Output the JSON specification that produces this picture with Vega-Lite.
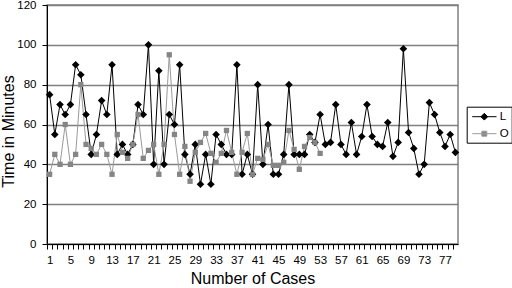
{
  "$schema": "https://vega.github.io/schema/vega-lite/v6.json",
  "width": 411,
  "height": 239,
  "autosize": {"type": "none"},
  "padding": {"left": 47, "top": 5, "right": 54, "bottom": 44},
  "background": "white",
  "config": {
    "font": "Liberation Sans",
    "view": {"stroke": "#808080", "strokeWidth": 1.5}
  },
  "data": {"values": [
    {"case":1,"series":"L","time":75},{"case":2,"series":"L","time":55},{"case":3,"series":"L","time":70},{"case":4,"series":"L","time":65},{"case":5,"series":"L","time":70},{"case":6,"series":"L","time":90},{"case":7,"series":"L","time":85},{"case":8,"series":"L","time":65},{"case":9,"series":"L","time":45},{"case":10,"series":"L","time":55},
    {"case":11,"series":"L","time":72},{"case":12,"series":"L","time":65},{"case":13,"series":"L","time":90},{"case":14,"series":"L","time":45},{"case":15,"series":"L","time":50},{"case":16,"series":"L","time":45},{"case":17,"series":"L","time":50},{"case":18,"series":"L","time":70},{"case":19,"series":"L","time":65},{"case":20,"series":"L","time":100},
    {"case":21,"series":"L","time":40},{"case":22,"series":"L","time":87},{"case":23,"series":"L","time":40},{"case":24,"series":"L","time":65},{"case":25,"series":"L","time":60},{"case":26,"series":"L","time":90},{"case":27,"series":"L","time":45},{"case":28,"series":"L","time":35},{"case":29,"series":"L","time":50},{"case":30,"series":"L","time":30},
    {"case":31,"series":"L","time":45},{"case":32,"series":"L","time":30},{"case":33,"series":"L","time":55},{"case":34,"series":"L","time":50},{"case":35,"series":"L","time":45},{"case":36,"series":"L","time":45},{"case":37,"series":"L","time":90},{"case":38,"series":"L","time":35},{"case":39,"series":"L","time":45},{"case":40,"series":"L","time":35},
    {"case":41,"series":"L","time":80},{"case":42,"series":"L","time":40},{"case":43,"series":"L","time":60},{"case":44,"series":"L","time":35},{"case":45,"series":"L","time":35},{"case":46,"series":"L","time":45},{"case":47,"series":"L","time":80},{"case":48,"series":"L","time":45},{"case":49,"series":"L","time":45},{"case":50,"series":"L","time":45},
    {"case":51,"series":"L","time":55},{"case":52,"series":"L","time":51},{"case":53,"series":"L","time":65},{"case":54,"series":"L","time":50},{"case":55,"series":"L","time":51},{"case":56,"series":"L","time":70},{"case":57,"series":"L","time":50},{"case":58,"series":"L","time":45},{"case":59,"series":"L","time":61},{"case":60,"series":"L","time":45},
    {"case":61,"series":"L","time":54},{"case":62,"series":"L","time":70},{"case":63,"series":"L","time":54},{"case":64,"series":"L","time":50},{"case":65,"series":"L","time":49},{"case":66,"series":"L","time":61},{"case":67,"series":"L","time":44},{"case":68,"series":"L","time":51},{"case":69,"series":"L","time":98},{"case":70,"series":"L","time":56},
    {"case":71,"series":"L","time":48},{"case":72,"series":"L","time":35},{"case":73,"series":"L","time":40},{"case":74,"series":"L","time":71},{"case":75,"series":"L","time":65},{"case":76,"series":"L","time":56},{"case":77,"series":"L","time":49},{"case":78,"series":"L","time":55},{"case":79,"series":"L","time":46},
    {"case":1,"series":"O","time":35},{"case":2,"series":"O","time":45},{"case":3,"series":"O","time":40},{"case":4,"series":"O","time":60},{"case":5,"series":"O","time":40},{"case":6,"series":"O","time":45},{"case":7,"series":"O","time":80},{"case":8,"series":"O","time":50},{"case":9,"series":"O","time":48},{"case":10,"series":"O","time":45},
    {"case":11,"series":"O","time":50},{"case":12,"series":"O","time":45},{"case":13,"series":"O","time":35},{"case":14,"series":"O","time":55},{"case":15,"series":"O","time":46},{"case":16,"series":"O","time":43},{"case":17,"series":"O","time":50},{"case":18,"series":"O","time":65},{"case":19,"series":"O","time":43},{"case":20,"series":"O","time":47},
    {"case":21,"series":"O","time":50},{"case":22,"series":"O","time":35},{"case":23,"series":"O","time":50},{"case":24,"series":"O","time":95},{"case":25,"series":"O","time":55},{"case":26,"series":"O","time":35},{"case":27,"series":"O","time":49},{"case":28,"series":"O","time":31.5},{"case":29,"series":"O","time":46},{"case":30,"series":"O","time":51},
    {"case":31,"series":"O","time":55.5},{"case":32,"series":"O","time":45.5},{"case":33,"series":"O","time":41},{"case":34,"series":"O","time":45.5},{"case":35,"series":"O","time":57},{"case":36,"series":"O","time":46},{"case":37,"series":"O","time":35},{"case":38,"series":"O","time":46},{"case":39,"series":"O","time":55.5},{"case":40,"series":"O","time":35},
    {"case":41,"series":"O","time":43},{"case":42,"series":"O","time":42.5},{"case":43,"series":"O","time":50},{"case":44,"series":"O","time":39.5},{"case":45,"series":"O","time":39.5},{"case":46,"series":"O","time":41},{"case":47,"series":"O","time":57},{"case":48,"series":"O","time":47.5},{"case":49,"series":"O","time":37.5},{"case":50,"series":"O","time":49},
    {"case":51,"series":"O","time":53.5},{"case":52,"series":"O","time":51},{"case":53,"series":"O","time":45.5}
  ]},
  "encoding": {
    "x": {
      "field": "case", "type": "quantitative",
      "scale": {"domain": [0.5, 79.5], "nice": false, "zero": false},
      "axis": {
        "values": [1,2,3,4,5,6,7,8,9,10,11,12,13,14,15,16,17,18,19,20,21,22,23,24,25,26,27,28,29,30,31,32,33,34,35,36,37,38,39,40,41,42,43,44,45,46,47,48,49,50,51,52,53,54,55,56,57,58,59,60,61,62,63,64,65,66,67,68,69,70,71,72,73,74,75,76,77,78,79],
        "tickOffset": -2.6, "labelOffset": 2.6,
        "labelExpr": "(datum.value - 1) % 4 === 0 ? datum.label : ''",
        "labelOverlap": false, "labelFlush": false, "labelBound": false,
        "grid": false, "tickSize": 5, "tickColor": "black", "domainColor": "black",
        "labelFontSize": 11.5, "labelColor": "black", "labelPadding": 5,
        "title": "Number of Cases", "titleFontSize": 16, "titleFontWeight": "normal", "titleColor": "black", "titlePadding": 5
      }
    },
    "y": {
      "field": "time", "type": "quantitative",
      "scale": {"domain": [0, 120], "nice": false},
      "axis": {
        "values": [0,20,40,60,80,100,120],
        "grid": true, "gridColor": "#808080", "gridWidth": 1.5,
        "tickSize": 5, "tickColor": "black", "domainColor": "black",
        "labelFontSize": 11.5, "labelColor": "black", "labelPadding": 6,
        "title": "Time in Minutes", "titleFontSize": 16, "titleFontWeight": "normal", "titleColor": "black",
        "titleX": -34, "titleY": 126, "titleAngle": 270, "titleBaseline": "alphabetic", "titleAlign": "center"
      }
    }
  },
  "layer": [
    {
      "mark": {"type": "line", "strokeWidth": 1},
      "encoding": {
        "color": {
          "field": "series", "type": "nominal",
          "scale": {"domain": ["L", "O"], "range": ["#000000", "#9a9a9a"]},
          "legend": {
            "title": null, "orient": "none", "legendX": 419.7, "legendY": 101.7,
            "strokeColor": "black", "padding": 3, "rowPadding": 4,
            "symbolSize": 169, "symbolStrokeWidth": 1, "labelOffset": 16,
            "labelFontSize": 11.5, "labelColor": "black",
            "encode": {
              "symbols": {
                "update": {
                  "shape": {"signal": "datum.value === 'L' ? 'M-0.69,0H3.05M0.65,0L1.17,-0.52L1.69,0L1.17,0.52Z' : 'M-0.69,0H3.05M0.79,-0.38H1.55V0.38H0.79Z'"},
                  "fill": {"signal": "datum.value === 'L' ? '#000000' : '#858585'"},
                  "opacity": {"value": 1}
                }
              }
            }
          }
        }
      }
    },
    {
      "transform": [{"filter": "datum.series === 'L'"}],
      "mark": {"type": "point", "shape": "diamond", "filled": true, "fill": "#000000", "size": 58, "opacity": 1, "strokeWidth": 0}
    },
    {
      "transform": [{"filter": "datum.series === 'O'"}],
      "mark": {"type": "point", "shape": "square", "filled": true, "fill": "#858585", "size": 28, "opacity": 1, "strokeWidth": 0}
    }
  ]
}
